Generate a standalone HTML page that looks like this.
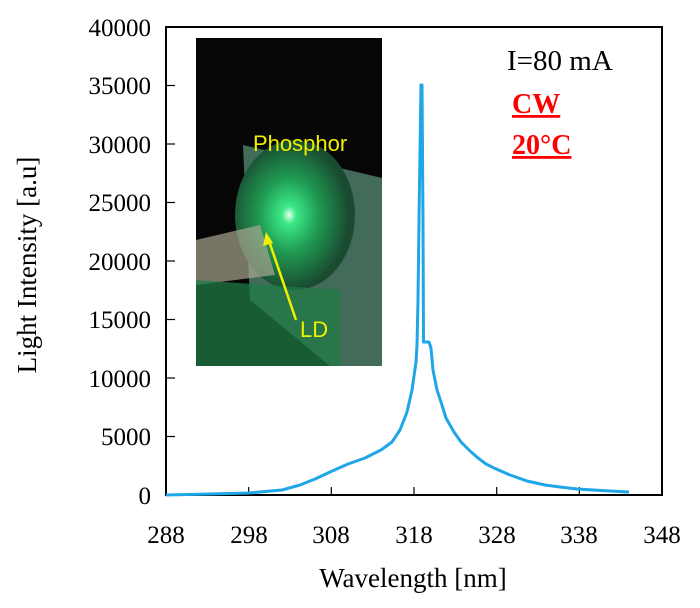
<!DOCTYPE html>
<html><head><style>
body{margin:0;background:#fff;width:700px;height:603px;overflow:hidden;font-family:"Liberation Serif",serif;}
</style></head><body>
<svg width="700" height="603" xmlns="http://www.w3.org/2000/svg" font-family="Liberation Serif, serif">
<defs>
<radialGradient id="g1" cx="0.45" cy="0.5" r="0.5">
<stop offset="0" stop-color="#e8fff0"/><stop offset="0.12" stop-color="#3ce887"/><stop offset="0.5" stop-color="#1f9a52"/><stop offset="1" stop-color="#1a4a30"/>
</radialGradient>
</defs>
<rect x="196" y="38" width="186" height="328" fill="#060606"/>
<polygon points="243,145 382,178 382,366 330,366 250,300" fill="#4f7e6a" opacity="0.85"/>
<ellipse cx="295" cy="215" rx="60" ry="75" fill="url(#g1)"/>
<polygon points="196,240 260,225 275,275 196,285" fill="#a8a690" opacity="0.7"/>
<polygon points="196,280 340,290 340,366 196,366" fill="#1f7a45" opacity="0.75"/>
<text x="253" y="151" font-family="Liberation Sans, sans-serif" font-size="22" fill="#f0f000">Phosphor</text>
<text x="300" y="337" font-family="Liberation Sans, sans-serif" font-size="22" fill="#f0f000">LD</text>
<line x1="296" y1="320" x2="268" y2="238" stroke="#f0f000" stroke-width="2.5"/>
<polygon points="266,232 263,246 273,243" fill="#f0f000"/>
<rect x="166" y="27" width="496" height="468" fill="none" stroke="#000" stroke-width="2"/>
<g stroke="#000" stroke-width="1.2">
<line x1="166" y1="85.5" x2="175" y2="85.5"/><line x1="166" y1="144" x2="175" y2="144"/><line x1="166" y1="202.5" x2="175" y2="202.5"/><line x1="166" y1="261" x2="175" y2="261"/><line x1="166" y1="319.5" x2="175" y2="319.5"/><line x1="166" y1="378" x2="175" y2="378"/><line x1="166" y1="436.5" x2="175" y2="436.5"/>
<line x1="248.7" y1="495" x2="248.7" y2="487"/><line x1="331.3" y1="495" x2="331.3" y2="487"/><line x1="414" y1="495" x2="414" y2="487"/><line x1="496.7" y1="495" x2="496.7" y2="487"/><line x1="579.3" y1="495" x2="579.3" y2="487"/>
</g>
<g font-size="25" text-anchor="end" fill="#000">
<text x="151" y="36">40000</text><text x="151" y="94">35000</text><text x="151" y="153">30000</text><text x="151" y="211">25000</text><text x="151" y="270">20000</text><text x="151" y="328">15000</text><text x="151" y="387">10000</text><text x="151" y="445">5000</text><text x="151" y="504">0</text>
</g>
<g font-size="25" text-anchor="middle" fill="#000">
<text x="166" y="543">288</text><text x="249" y="543">298</text><text x="331" y="543">308</text><text x="414" y="543">318</text><text x="497" y="543">328</text><text x="579" y="543">338</text><text x="662" y="543">348</text>
</g>
<text x="413" y="587" font-size="27" text-anchor="middle">Wavelength  [nm]</text>
<text transform="translate(36,265) rotate(-90)" font-size="27" text-anchor="middle">Light Intensity [a.u]</text>
<text x="507" y="70" font-size="29">I=80 mA</text>
<text x="512" y="113" font-size="28" font-weight="bold" fill="#ff0000" text-decoration="underline">CW</text>
<text x="512" y="154" font-size="28" font-weight="bold" fill="#ff0000" text-decoration="underline">20°C</text>
<polyline fill="none" stroke="#1ea6e6" stroke-width="3" stroke-linejoin="round" points="166,495 210,494 249,493 282,490 300,485 315,479 330,472 348,464 365,458 381,450 392,442 400,430 407,412 412,390 416,362 417,345 418,300 419,220 421,85 422,85 423,220 423.5,342 429,342 431,348 433,370 437,390 441,402 446,418 454,432 461,442 470,451 478,458 486,464 494,468 510,475 527,481 545,485 560,487 577,489 593,490 610,491 629,492"/>
</svg>
</body></html>
